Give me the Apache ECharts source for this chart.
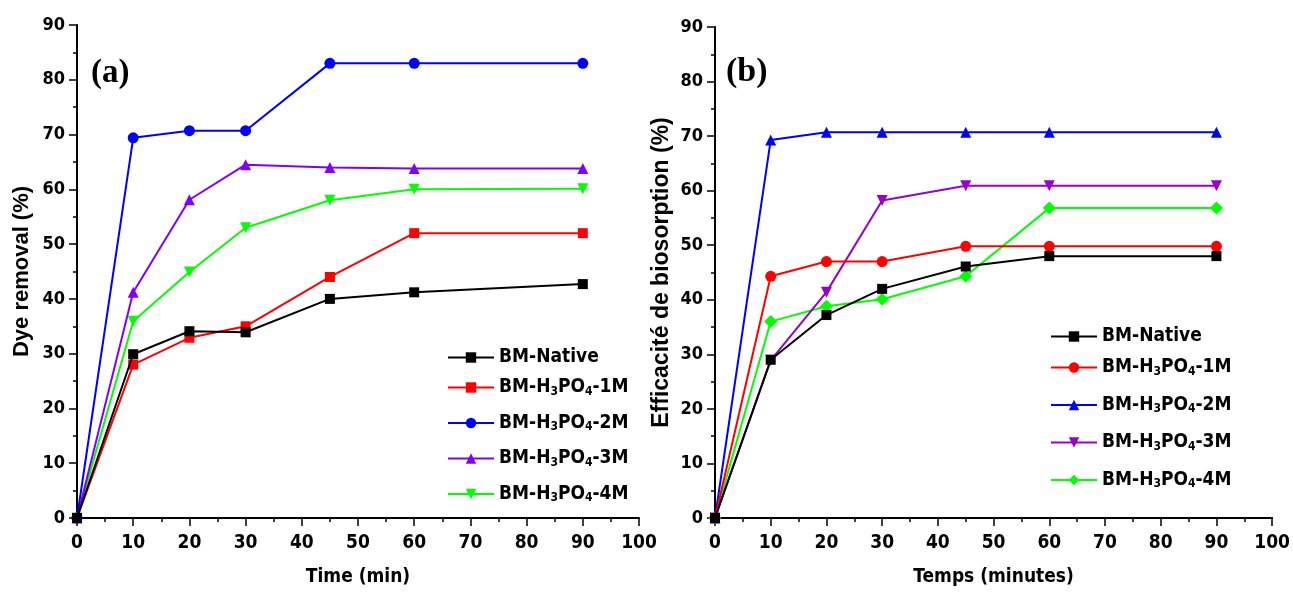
<!DOCTYPE html>
<html><head><meta charset="utf-8">
<script src="https://cdn.jsdelivr.net/npm/echarts@6/dist/echarts.min.js"></script>
<style>html,body{margin:0;padding:0;background:#fff}#c{width:1293px;height:592px}</style>
</head><body><div id="c"></div>
<script>
// ---- data ----
const timeA = [0, 10, 20, 30, 45, 60, 90];
const timeB = [0, 10, 20, 30, 45, 60, 90];
const namesA = ['BM-Native', 'BM-H3PO4-1M', 'BM-H3PO4-2M', 'BM-H3PO4-3M', 'BM-H3PO4-4M'];
const namesB = ['BM-Native', 'BM-H3PO4-1M', 'BM-H3PO4-2M', 'BM-H3PO4-3M', 'BM-H3PO4-4M'];
const a_native = [0, 29.9, 34.1, 33.9, 40.0, 41.2, 42.7];
const a_1M     = [0, 28.0, 32.9, 35.0, 44.0, 52.0, 52.0];
const a_2M     = [0, 69.4, 70.7, 70.7, 83.0, 83.0, 83.0];
const a_3M     = [0, 41.2, 58.1, 64.5, 64.0, 63.8, 63.8];
const a_4M     = [0, 35.9, 44.9, 53.0, 58.0, 60.0, 60.1];
const b_native = [0, 29.0, 37.2, 42.0, 46.1, 48.0, 48.0];
const b_1M     = [0, 44.3, 47.0, 47.0, 49.8, 49.8, 49.8];
const b_2M     = [0, 69.3, 70.7, 70.7, 70.7, 70.7, 70.7];
const b_3M     = [0, 28.9, 41.4, 58.2, 60.9, 60.9, 60.9];
const b_4M     = [0, 36.0, 38.8, 40.1, 44.3, 56.8, 56.8];
const xTicks = [0, 10, 20, 30, 40, 50, 60, 70, 80, 90, 100];
const yTicks = [0, 10, 20, 30, 40, 50, 60, 70, 80, 90];

const NARROW = "'Liberation Sans Narrow', 'DejaVu Sans Condensed', 'Arial Narrow', sans-serif";
const ARIAL = "'Liberation Sans', Arial, sans-serif";
const INVTRI = 'path://M0,0 L10,0 L5,9 Z';

function pairs(xs, ys){ return xs.map((x,i)=>[x, ys[i]]); }

function mkSeries(prefix, xs, vals, names, colors, symbols, idx){
  return vals.map((v,i)=>({
    type:'line', name: prefix + names[i], xAxisIndex: idx, yAxisIndex: idx,
    data: pairs(xs, v), symbol: symbols[i],
    symbolSize: symbols[i]==='rect' ? 10 : (symbols[i]==='diamond' ? 13 : 11),
    lineStyle:{color:colors[i], width:2}, itemStyle:{color:colors[i]},
    animation:false, z: 5 - i
  }));
}
const colorsA = ['#000000','#ff0000','#0000ff','#8000ff','#00ff00'];
const colorsB = ['#000000','#ff0000','#0000ff','#9900cc','#00ff00'];
const symA = ['rect','rect','circle','triangle',INVTRI];
const symB = ['rect','circle','triangle',INVTRI,'diamond'];

function axisX(gi, name){
  return {type:'value', gridIndex: gi, min:0, max:100, interval:10,
    name: name, nameLocation:'middle', nameGap: 50,
    nameTextStyle:{fontFamily:NARROW, fontWeight:'bold', fontSize:19, color:'#000'},
    axisLine:{show:true, lineStyle:{color:'#000', width:2}},
    axisTick:{show:true, inside:false, length:8, lineStyle:{color:'#000', width:1.5}},
    minorTick:{show:true, splitNumber:2, length:4, lineStyle:{color:'#000', width:1.5}},
    axisLabel:{fontFamily:NARROW, fontWeight:'bold', fontSize:19, color:'#000', margin:16,
      formatter: v => xTicks.includes(v) ? String(v) : ''},
    splitLine:{show:false}};
}
function axisY(gi, name, gap, fs){
  return {type:'value', gridIndex: gi, min:0, max:90, interval:10,
    name: name, nameLocation:'middle', nameGap: gap, nameRotate: 90,
    nameTextStyle:{fontFamily:ARIAL, fontWeight:'bold', fontSize:fs, color:'#000'},
    axisLine:{show:true, lineStyle:{color:'#000', width:2}},
    axisTick:{show:true, inside:false, length:8, lineStyle:{color:'#000', width:1.5}},
    minorTick:{show:true, splitNumber:2, length:4, lineStyle:{color:'#000', width:1.5}},
    axisLabel:{fontFamily:NARROW, fontWeight:'bold', fontSize:18, color:'#000', margin:12,
      formatter: v => yTicks.includes(v) ? String(v) : ''},
    splitLine:{show:false}};
}
const rich = {
  n:{fontFamily:NARROW, fontWeight:'bold', fontSize:19, color:'#000'},
  s:{fontFamily:NARROW, fontWeight:'bold', fontSize:12, color:'#000', verticalAlign:'bottom', padding:[8,0,0,0]}
};
function legendFmt(name){
  const n = name.slice(2);
  const m = n.match(/^BM-H3PO4-(.*)$/);
  if(!m) return '{n|' + n + '}';
  return '{n|BM-H}{s|3}{n|PO}{s|4}{n|-' + m[1] + '}';
}
function mkLegend(prefix, names, left, top, gap){
  return {orient:'vertical', left:left, top:top, padding:0, itemWidth:46, itemHeight:13, itemGap:gap,
    data: names.map(n=>prefix+n), formatter: legendFmt,
    textStyle:{rich: rich, fontFamily:NARROW, fontWeight:'bold', fontSize:19, color:'#000'},
    selectedMode:false};
}

const option = {
  backgroundColor:'#fff', animation:false,
  grid:[{left:77, top:25, width:562, height:495},
        {left:715, top:27, width:560, height:493}],
  xAxis:[axisX(0,'Time (min)'), axisX(1,'Temps (minutes)')],
  yAxis:[axisY(0,'Dye removal (%)', 44, 22), axisY(1,'Efficacité de biosorption (%)', 42, 23)],
  legend:[mkLegend('a:', namesA.slice(0,1), 447, 348, 16),
          mkLegend('a:', namesA.slice(1), 447, 378, 16),
          mkLegend('b:', namesB.slice(0,1), 1050, 327, 18),
          mkLegend('b:', namesB.slice(1), 1050, 358, 18)],
  series:[].concat(
    mkSeries('a:', timeA, [a_native,a_1M,a_2M,a_3M,a_4M], namesA, colorsA, symA, 0),
    mkSeries('b:', timeB, [b_native,b_1M,b_2M,b_3M,b_4M], namesB, colorsB, symB, 1)),
  graphic:[
    {type:'text', left:91, top:57, style:{text:'(a)', font:"bold 33px 'Liberation Serif', 'Times New Roman', serif", fill:'#000'}},
    {type:'text', left:726, top:55, style:{text:'(b)', font:"bold 34px 'Liberation Serif', 'Times New Roman', serif", fill:'#000'}}
  ]
};
const chart = echarts.init(document.getElementById('c'), null, {renderer:'canvas'});
chart.setOption(option);
</script></body></html>
